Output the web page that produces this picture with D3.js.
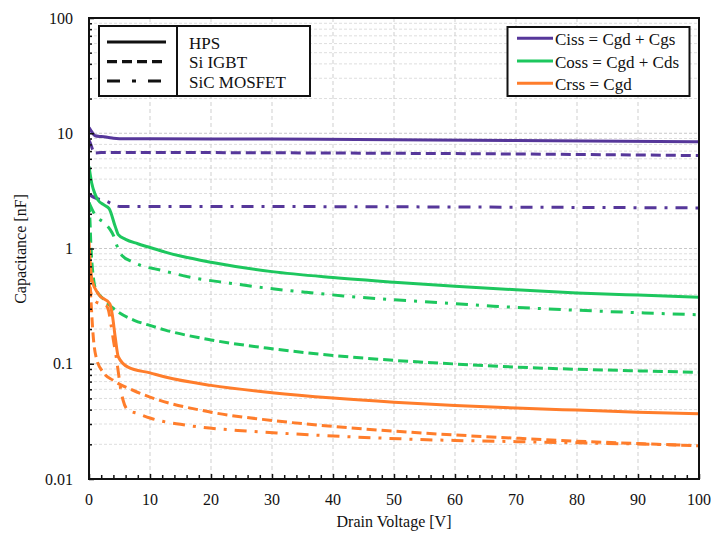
<!DOCTYPE html>
<html>
<head>
<meta charset="utf-8">
<script src="https://cdn.jsdelivr.net/npm/d3@7/dist/d3.min.js"></script>
<style>
html,body{margin:0;padding:0;background:#fff;}
svg{display:block;}
text{font-family:"Liberation Serif","Times New Roman",serif;fill:#111;}
</style>
</head>
<body>
<svg id="chart" width="711" height="533"></svg>
<script>
// ---------- data (Drain voltage [V], capacitance [nF]) ----------
const xTicks = [0,10,20,30,40,50,60,70,80,90,100];
const yTicks = [0.01,0.1,1,10,100];
const yTickLabels = ["0.01","0.1","1","10","100"];

const hpsCiss = [[0,11.2],[0.5,10.2],[1,9.5],[2,9.35],[3,9.25],[4,9.05],[5,8.98],[10,8.95],[30,8.9],[50,8.8],[70,8.65],[100,8.45]];
const igbtCiss = [[0,8.7],[0.3,8.0],[0.6,7.2],[1,6.75],[2,6.8],[10,6.8],[50,6.7],[80,6.55],[100,6.4]];
const sicCiss = [[0,2.95],[1,2.75],[2,2.65],[3,2.55],[4,2.4],[5,2.32],[10,2.32],[50,2.3],[100,2.25]];

const hpsCoss = [[0,5.15],[0.44,3.7],[1,2.95],[1.5,2.62],[2.5,2.38],[3.3,2.22],[4.3,1.55],[4.8,1.32],[6,1.2],[8,1.1],[10,1.02],[12.5,0.93],[15,0.86],[20,0.76],[30,0.63],[40,0.56],[50,0.51],[60,0.47],[70,0.438],[80,0.412],[90,0.394],[100,0.378]];
const igbtCoss = [[0,2.5],[0.15,1.8],[0.3,1.1],[0.45,0.79],[0.7,0.57],[1,0.46],[2.6,0.354],[4.3,0.293],[7.5,0.237],[10,0.215],[12.5,0.196],[20,0.161],[30,0.135],[40,0.118],[50,0.107],[60,0.0995],[70,0.0935],[80,0.0895],[90,0.0868],[100,0.0843]];
const sicCoss = [[0,2.5],[1,1.95],[2.5,1.67],[3.5,1.45],[4,1.3],[4.6,1.05],[5.4,0.87],[7.3,0.76],[8.9,0.7],[10.8,0.666],[17.1,0.557],[23.1,0.5],[29.3,0.452],[35.4,0.418],[41.7,0.388],[47.7,0.366],[54.3,0.347],[66.3,0.316],[78.9,0.293],[91.1,0.276],[100,0.266]];

const hpsCrss = [[0,1.15],[0.2,0.75],[0.5,0.53],[1.5,0.405],[3.4,0.331],[3.8,0.27],[4.3,0.17],[4.8,0.115],[6.4,0.0934],[10,0.0833],[12.5,0.0767],[20,0.0649],[30,0.0561],[40,0.0504],[50,0.0464],[60,0.0435],[70,0.0413],[80,0.0396],[90,0.038],[100,0.0368]];
const igbtCrss = [[0,0.62],[0.2,0.45],[0.4,0.3],[0.6,0.2],[0.8,0.15],[1.2,0.112],[2.3,0.0845],[4,0.0716],[7.3,0.0586],[10,0.0514],[20,0.038],[30,0.0322],[40,0.0286],[50,0.026],[60,0.0241],[70,0.0226],[80,0.0213],[90,0.0203],[100,0.0194]];
const sicCrss = [[0,0.5],[0.5,0.38],[1,0.35],[2,0.33],[2.8,0.32],[3.2,0.29],[3.6,0.22],[4,0.16],[4.4,0.12],[4.8,0.085],[5.2,0.06],[5.6,0.048],[6.3,0.04],[8,0.037],[10,0.0338],[12,0.0317],[15,0.0298],[18.2,0.0282],[24.4,0.0264],[30.8,0.0251],[36.7,0.0241],[43,0.0232],[49.3,0.0225],[55.4,0.0219],[60,0.0216],[70,0.0211],[80,0.0206],[90,0.0201],[100,0.0195]];

const deviceNames = ["HPS","Si IGBT","SiC MOSFET"];
const capNames = ["Ciss = Cgd + Cgs","Coss = Cgd + Cds","Crss = Cgd"];

// ---------- styling ----------
const colors = ["#56379a","#1dc75e","#ff7d2b"];
const dashes = [null,"10,5","12,8,3,8"];

const series = [
  {data:hpsCiss,c:0,d:0},{data:igbtCiss,c:0,d:1},{data:sicCiss,c:0,d:2},
  {data:hpsCoss,c:1,d:0},{data:igbtCoss,c:1,d:1},{data:sicCoss,c:1,d:2},
  {data:hpsCrss,c:2,d:0},{data:igbtCrss,c:2,d:1},{data:sicCrss,c:2,d:2}
];

const L=89,R=699,T=18,B=479;
const svg=d3.select("#chart");
const x=d3.scaleLinear().domain([0,100]).range([L,R]);
const y=d3.scaleLog().domain([0.01,100]).range([B,T]);

// grid
const g=svg.append("g");
const minorY=[];
for(let e=-2;e<2;e++){for(let m=1;m<10;m++){minorY.push(m*Math.pow(10,e));}}
g.selectAll("line.hy").data(minorY.filter(v=>v>0.01)).enter().append("line")
 .attr("x1",L).attr("x2",R).attr("y1",d=>y(d)).attr("y2",d=>y(d))
 .attr("stroke",d=>[0.1,1,10].some(t=>Math.abs(t-d)<1e-9)?"#c8c8c8":"#dedede")
 .attr("stroke-width",1).attr("stroke-dasharray","3,2");
g.selectAll("line.vx").data(xTicks.slice(1,-1)).enter().append("line")
 .attr("x1",d=>x(d)).attr("x2",d=>x(d)).attr("y1",T).attr("y2",B)
 .attr("stroke","#cfcfcf").attr("stroke-width",1).attr("stroke-dasharray","4,3");

// lines
const line=d3.line().x(d=>x(d[0])).y(d=>y(d[1])).curve(d3.curveMonotoneX);
svg.append("clipPath").attr("id","clip").append("rect").attr("x",L).attr("y",T).attr("width",R-L).attr("height",B-T);
svg.append("g").attr("clip-path","url(#clip)").selectAll("path").data(series).enter().append("path")
 .attr("d",s=>line(s.data)).attr("fill","none")
 .attr("stroke",s=>colors[s.c]).attr("stroke-width",3)
 .attr("stroke-dasharray",s=>dashes[s.d]);

// axes (ticks inward)
const yAxis=d3.axisRight(y).tickValues(minorY.concat([100])).tickSize(3).tickFormat("");
const ya=svg.append("g").attr("transform",`translate(${L},0)`).call(yAxis);
ya.selectAll(".tick line").attr("x2",d=>yTicks.some(t=>Math.abs(t-d)<1e-9)?5:3).attr("stroke","#111").attr("stroke-width",1.5);
ya.select(".domain").remove();
const xMinor=d3.range(0,101,2);
const xAxis=d3.axisTop(x).tickValues(xMinor).tickSize(4).tickFormat("");
const xa=svg.append("g").attr("transform",`translate(0,${B})`).call(xAxis);
xa.selectAll(".tick line").attr("y2",d=>d%10===0?-5:-4).attr("stroke","#111").attr("stroke-width",1.5);
xa.select(".domain").remove();

svg.append("rect").attr("x",L).attr("y",T).attr("width",R-L).attr("height",B-T)
 .attr("fill","none").attr("stroke","#111").attr("stroke-width",2);

// tick labels
svg.selectAll("text.yl").data(yTicks).enter().append("text")
 .attr("x",73).attr("y",d=>y(d)+5.5).attr("text-anchor","end").attr("font-size",16)
 .text((d,i)=>yTickLabels[i]);
svg.selectAll("text.xl").data(xTicks).enter().append("text")
 .attr("x",d=>x(d)).attr("y",505).attr("text-anchor","middle").attr("font-size",16)
 .text(d=>d);

// axis titles
svg.append("text").attr("x",394).attr("y",527).attr("text-anchor","middle").attr("font-size",16).text("Drain Voltage [V]");
svg.append("text").attr("transform","translate(26,249) rotate(-90)").attr("text-anchor","middle").attr("font-size",16).text("Capacitance [nF]");

// legend 1: line styles
const l1=svg.append("g");
l1.append("rect").attr("x",99).attr("y",26).attr("width",211).attr("height",70).attr("fill","#fff").attr("stroke","#111").attr("stroke-width",2);
l1.append("line").attr("x1",177).attr("x2",177).attr("y1",26).attr("y2",96).attr("stroke","#111").attr("stroke-width",2);
const ly1=[42,61.7,81];
l1.selectAll("line.s").data(deviceNames).enter().append("line")
 .attr("x1",107).attr("x2",166).attr("y1",(d,i)=>ly1[i]).attr("y2",(d,i)=>ly1[i])
 .attr("stroke","#111").attr("stroke-width",3.2).attr("stroke-dasharray",(d,i)=>i===1?"10,5":(i===2?"13,12,4,12":null));
l1.selectAll("text").data(deviceNames).enter().append("text")
 .attr("x",189).attr("y",(d,i)=>ly1[i]+6.5).attr("font-size",17).text(d=>d);

// legend 2: colours
const l2=svg.append("g");
l2.append("rect").attr("x",507.5).attr("y",27).attr("width",182).attr("height",69).attr("fill","#fff").attr("stroke","#111").attr("stroke-width",2);
const ly2=[38.3,61,83.3];
l2.selectAll("line").data(capNames).enter().append("line")
 .attr("x1",517).attr("x2",553).attr("y1",(d,i)=>ly2[i]).attr("y2",(d,i)=>ly2[i])
 .attr("stroke",(d,i)=>colors[i]).attr("stroke-width",3);
l2.selectAll("text").data(capNames).enter().append("text")
 .attr("x",555).attr("y",(d,i)=>ly2[i]+6.5).attr("font-size",17).text(d=>d);
</script>
</body>
</html>
